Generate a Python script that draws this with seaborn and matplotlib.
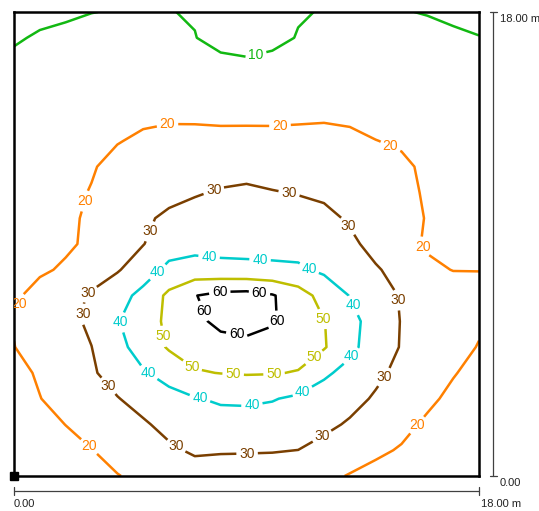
import numpy as np
import matplotlib
matplotlib.use("Agg")
import matplotlib.pyplot as plt
import seaborn as sns

# Calculation grid of the room floor (metres)
grid_x = list(range(19))
grid_y = list(range(19))

# Illuminance (lx) on the grid, one list per row, from y = 0 m upward
lux_y00 = [11.0, 13.3, 15.5, 17.5, 19.7, 21.8, 24.0, 26.0, 26.6, 26.6, 26.2, 25.0, 22.0, 19.5, 17.5, 15.8, 14.3, 12.7, 11.0]
lux_y01 = [12.5, 15.0, 17.3, 19.8, 22.7, 25.7, 28.6, 31.2, 30.6, 30.5, 30.4, 29.95, 27.2, 24.3, 21.5, 19.3, 17.2, 15.0, 12.7]
lux_y02 = [14.5, 17.3, 20.1, 23.0, 25.9, 28.9, 32.6, 35.3, 35.7, 35.7, 35.3, 34.3, 32.0, 29.0, 25.3, 22.2, 18.7, 16.4, 14.3]
lux_y03 = [16.5, 19.8, 23.1, 25.5, 29.6, 33.3, 36.8, 39.4, 41.4, 41.7, 40.6, 38.2, 35.6, 32.8, 29.0, 25.4, 21.6, 18.2, 16.0]
lux_y04 = [17.5, 21.0, 24.9, 28.9, 33.7, 39.1, 43.7, 49.3, 50.2, 50.7, 50.5, 49.5, 41.6, 37.0, 31.9, 27.7, 24.1, 20.5, 17.5]
lux_y05 = [19.85, 23.1, 26.5, 29.9, 37.1, 44.2, 51.0, 53.5, 56.2, 56.6, 55.8, 54.0, 50.8, 42.4, 35.3, 29.4, 26.1, 22.8, 19.6]
lux_y06 = [20.5, 23.9, 27.3, 31.6, 39.4, 45.8, 51.9, 57.5, 62.5, 64.5, 61.0, 55.3, 50.3, 43.0, 35.9, 29.6, 26.8, 24.0, 21.2]
lux_y07 = [18.8, 22.5, 26.7, 31.1, 36.3, 42.8, 52.1, 59.7, 62.8, 63.5, 60.8, 54.5, 46.4, 39.7, 34.1, 29.3, 26.7, 24.1, 21.5]
lux_y08 = [18.0, 19.0, 20.9, 25.4, 29.2, 35.2, 42.5, 44.0, 43.0, 42.5, 42.0, 41.5, 38.4, 34.6, 30.9, 26.9, 21.6, 19.8, 19.9]
lux_y09 = [17.0, 18.2, 19.0, 21.2, 25.8, 29.7, 35.3, 36.8, 36.5, 36.5, 36.5, 36.2, 35.9, 31.9, 27.1, 23.0, 19.0, 19.0, 18.9]
lux_y10 = [16.0, 17.5, 18.8, 21.0, 25.1, 28.7, 31.5, 33.1, 34.4, 34.6, 34.0, 33.3, 32.4, 28.9, 26.1, 22.7, 19.6, 18.7, 17.8]
lux_y11 = [15.0, 16.7, 18.5, 20.3, 23.3, 25.5, 27.7, 29.3, 30.7, 31.3, 30.4, 29.6, 28.3, 25.8, 23.8, 21.4, 19.4, 18.0, 16.7]
lux_y12 = [14.0, 15.8, 17.6, 19.5, 21.8, 23.2, 24.8, 25.5, 26.7, 27.4, 26.4, 25.9, 25.6, 23.8, 22.2, 21.0, 19.0, 17.0, 15.6]
lux_y13 = [13.0, 14.5, 16.2, 17.9, 19.7, 21.0, 21.7, 22.0, 22.5, 22.7, 22.2, 22.1, 22.1, 21.3, 20.1, 19.3, 17.4, 15.9, 14.5]
lux_y14 = [12.3, 13.4, 14.6, 16.2, 17.9, 18.8, 19.1, 18.9, 18.2, 18.1, 18.4, 18.8, 19.1, 18.9, 18.0, 16.9, 15.7, 14.5, 13.4]
lux_y15 = [11.5, 12.3, 13.1, 14.3, 15.6, 16.4, 16.3, 15.5, 14.3, 14.2, 14.5, 16.1, 16.5, 16.3, 15.8, 15.0, 14.0, 13.0, 12.3]
lux_y16 = [10.6, 11.3, 11.8, 12.5, 13.5, 14.0, 13.6, 12.3, 10.9, 10.57, 11.1, 13.4, 14.0, 13.8, 13.5, 13.0, 12.4, 11.7, 11.2]
lux_y17 = [9.7, 10.3, 10.6, 11.0, 11.7, 12.0, 11.5, 10.1, 8.8, 8.4, 8.9, 10.2, 11.8, 11.8, 11.6, 11.3, 10.9, 10.5, 10.1]
lux_y18 = [8.6, 9.3, 9.6, 9.95, 10.15, 10.2, 10.1, 9.75, 8.2, 7.8, 8.3, 9.7, 10.2, 10.1, 10.1, 10.15, 9.85, 9.4, 9.0]

# Isolux levels and their line colours
levels = [10, 20, 30, 40, 50, 60]
level_colors = ["#12b812", "#ff8000", "#7a3f00", "#00cccc", "#bebe00", "#000000"]

# Where each isoline carries its value label (metres)
label_spots = {
    10: [(9.37, 16.33)],
    20: [(5.96, 13.54), (10.3, 13.54), (14.56, 12.76), (2.86, 10.63),
         (15.68, 8.8), (0.31, 6.63), (2.86, 1.09), (15.6, 1.98)],
    30: [(7.74, 11.05), (10.65, 10.98), (5.23, 9.5), (12.93, 9.7),
         (2.83, 7.14), (2.59, 6.28), (14.79, 6.83), (3.6, 3.45),
         (14.32, 3.84), (6.23, 1.09), (9.02, 0.97), (11.92, 1.55)],
    40: [(7.55, 8.49), (9.52, 8.3), (11.46, 8.11), (5.57, 7.91),
         (13.16, 6.63), (3.99, 5.93), (13.05, 4.65), (5.23, 4.03),
         (7.2, 3.03), (9.21, 2.75), (11.15, 3.3)],
    50: [(5.61, 5.39), (11.96, 6.09), (11.69, 4.5), (6.85, 4.19),
         (8.48, 3.88), (10.07, 3.92)],
    60: [(7.94, 7.29), (9.52, 7.25), (7.12, 6.32), (10.22, 5.97),
         (8.63, 5.55)],
}

sns.set_style("white")
plt.rcParams["font.family"] = ["Liberation Sans", "DejaVu Sans"]

lux = np.array([lux_y00, lux_y01, lux_y02, lux_y03, lux_y04, lux_y05, lux_y06,
                lux_y07, lux_y08, lux_y09, lux_y10, lux_y11, lux_y12, lux_y13,
                lux_y14, lux_y15, lux_y16, lux_y17, lux_y18])

W, H = 539, 511
fig = plt.figure(figsize=(W / 100, H / 100), dpi=100)
fig.patch.set_facecolor("white")
ax = fig.add_axes([14 / W, 35 / H, 465 / W, 464 / H])

palette = sns.color_palette(level_colors)
for lev, col in zip(levels, palette):
    cs = ax.contour(grid_x, grid_y, lux, levels=[lev], colors=[col],
                    linewidths=1.8)
    texts = ax.clabel(cs, fmt="%d", fontsize=10, inline=True,
                      inline_spacing=3, manual=label_spots[lev])
    for t in texts:
        t.set_rotation(0)

ax.set_xlim(0, 18)
ax.set_ylim(0, 18)
ax.set_xticks([])
ax.set_yticks([])
for s in ax.spines.values():
    s.set_visible(True)
    s.set_color("black")
    s.set_linewidth(1.8)

# origin marker
ax.plot([0], [0], marker="s", ms=5.8, color="black", clip_on=False, zorder=6)

# scale bars along the bottom and the right side
mx = 18 / 465
my = 18 / 464
bar = "#404040"
yb = -15 * my
ax.plot([0, 18], [yb, yb], color=bar, lw=0.9, clip_on=False)
for xv in (0, 18):
    ax.plot([xv, xv], [yb - 4 * my, yb + 4 * my], color=bar, lw=0.9, clip_on=False)
ax.text(0, -28 * my, "0.00", ha="left", va="center", fontsize=8, color="#222222")
ax.text(18 + 1.5 * mx, -28 * my, "18.00 m", ha="left", va="center", fontsize=8, color="#222222")

xb = 18 + 14 * mx
ax.plot([xb, xb], [0, 18], color=bar, lw=0.9, clip_on=False)
for yv in (0, 18):
    ax.plot([xb - 3.5 * mx, xb + 3.5 * mx], [yv, yv], color=bar, lw=0.9, clip_on=False)
ax.text(18 + 21 * mx, 18 - 6.5 * my, "18.00 m", ha="left", va="center", fontsize=8, color="#222222")
ax.text(18 + 21 * mx, -7 * my, "0.00", ha="left", va="center", fontsize=8, color="#222222")

fig.savefig("out.png", dpi=100, facecolor="white")
